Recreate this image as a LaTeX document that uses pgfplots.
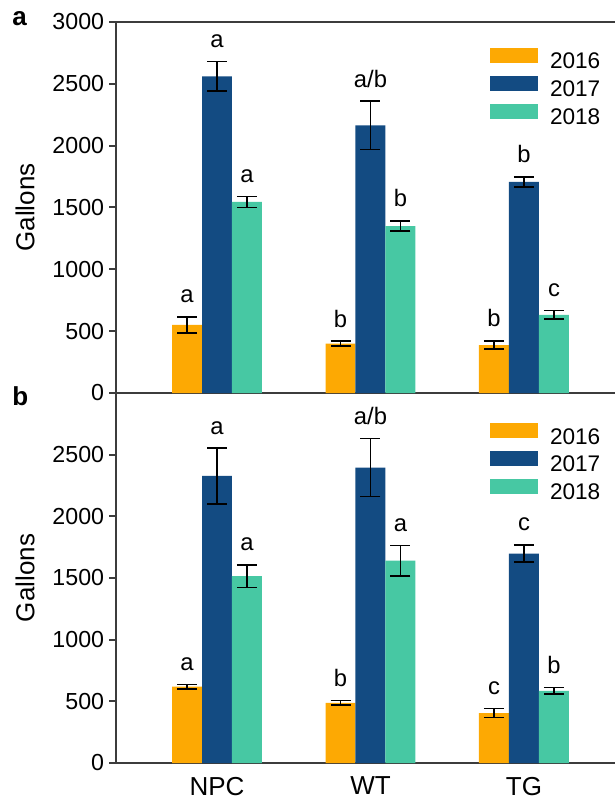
\documentclass[border=0pt]{standalone}
\usepackage{fontspec}
\setmainfont{Liberation Sans}
\usepackage{pgfplots}
\usepackage{pgfplotstable}
\pgfplotsset{compat=1.18}

\definecolor{c16}{RGB}{253,169,3}
\definecolor{c17}{RGB}{19,75,130}
\definecolor{c18}{RGB}{71,200,163}
\definecolor{axgray}{RGB}{60,60,60}

\newcommand{\tickfont}{\fontsize{11.6}{14}\selectfont}
\newcommand{\labfont}{\fontsize{13}{15}\selectfont}
\newcommand{\legfont}{\fontsize{11.3}{13}\selectfont}
\newcommand{\letfont}{\fontsize{11.9}{14}\selectfont}

% panel a: mean, error, letter per year
\pgfplotstableread{
x y16 e16 l16 y17 e17 l17 y18 e18 l18
0 550 65 a 2560 120 a   1545 45 a
1 400 20 b 2165 195 a/b 1350 42 b
2 388 33 b 1707 40  b   632  35 c
}\panela

% panel b
\pgfplotstableread{
x y16 e16 l16 y17 e17 l17 y18 e18 l18
0 620 18 a 2328 226 a   1515 92  a
1 488 19 b 2395 235 a/b 1640 123 a
2 405 37 c 1698 70  c   585  27  b
}\panelb

\pgfplotsset{
  panel/.style={
    scale only axis, width=249.5pt,
    xmin=-0.658, xmax=2.593, ymin=0, ymax=3000,
    axis y line*=left,
    axis line style={axgray, line width=1pt},
    tick style={axgray, line width=1pt},
    tick align=outside, major tick length=3.5pt,
    xtick style={draw=none},
    /pgf/number format/assume math mode=true,
    /pgf/number format/1000 sep={},
    yticklabel style={font=\tickfont, text=black, inner sep=0pt, xshift=-2.25pt},
    xticklabel style={font=\labfont, text=black},
    ylabel={Gallons},
    every axis y label/.style={at={(axis description cs:-0.182,0.5)}, rotate=90, anchor=center, font=\labfont, text=black},
    legend style={at={(0.7495,0.93)}, anchor=north west, draw=none, fill=none,
      inner sep=0pt, outer sep=0pt, font=\legfont, row sep=0pt,
      nodes={inner sep=0pt, text height=8.5pt, text depth=3.5pt},
      /tikz/every odd column/.append style={column sep=6pt}},
    legend cell align=left,
  },
  bars/.style={ybar, bar width=0.1954, bar shift=0, draw=none, fill=#1,
    error bars/.cd, y dir=both, y explicit,
    error bar style={line width=0.8pt, black},
    error mark options={rotate=90, mark size=5pt, line width=0.8pt, black},
    /pgfplots/.cd,
    legend image code/.code={\fill[fill=#1] (0pt,0.4pt) rectangle (24pt,7.9pt);}},
  letters/.style={forget plot, draw=none, mark=none, nodes near coords,
    point meta=explicit symbolic,
    every node near coord/.append style={anchor=base, yshift=7pt, font=\letfont, text=black, inner sep=0pt}},
}

\begin{document}
\begin{tikzpicture}
\useasboundingbox (0,0) rectangle (307.5pt,-400.5pt);

\begin{axis}[panel, at={(58pt,-196.5pt)}, anchor=south west, height=185.5pt,
  axis x line*=box, xtick=\empty, ytick={0,500,...,3000}]
\addplot[bars=c16] table[x expr=\thisrow{x}-0.1954, y=y16, y error=e16] {\panela};
\addplot[bars=c17] table[x expr=\thisrow{x}, y=y17, y error=e17] {\panela};
\addplot[bars=c18] table[x expr=\thisrow{x}+0.1954, y=y18, y error=e18] {\panela};
\addplot[letters] table[x expr=\thisrow{x}-0.1954, y expr=\thisrow{y16}+\thisrow{e16}, meta=l16] {\panela};
\addplot[letters] table[x expr=\thisrow{x}, y expr=\thisrow{y17}+\thisrow{e17}, meta=l17] {\panela};
\addplot[letters] table[x expr=\thisrow{x}+0.1954, y expr=\thisrow{y18}+\thisrow{e18}, meta=l18] {\panela};
\legend{2016,2017,2018}
\end{axis}

\begin{axis}[panel, at={(58pt,-381.5pt)}, anchor=south west, height=185pt,
  axis x line*=bottom, xtick={0,1,2}, xticklabels={NPC,WT,TG},
  ytick={0,500,...,2500}, legend style={at={(0.7495,0.918)}}]
\addplot[bars=c16] table[x expr=\thisrow{x}-0.1954, y=y16, y error=e16] {\panelb};
\addplot[bars=c17] table[x expr=\thisrow{x}, y=y17, y error=e17] {\panelb};
\addplot[bars=c18] table[x expr=\thisrow{x}+0.1954, y=y18, y error=e18] {\panelb};
\addplot[letters] table[x expr=\thisrow{x}-0.1954, y expr=\thisrow{y16}+\thisrow{e16}, meta=l16] {\panelb};
\addplot[letters] table[x expr=\thisrow{x}, y expr=\thisrow{y17}+\thisrow{e17}, meta=l17] {\panelb};
\addplot[letters] table[x expr=\thisrow{x}+0.1954, y expr=\thisrow{y18}+\thisrow{e18}, meta=l18] {\panelb};
\legend{2016,2017,2018}
\end{axis}

\node[anchor=base west, font=\fontsize{13}{15}\selectfont\bfseries, inner sep=0pt] at (6pt,-13pt) {a};
\node[anchor=base west, font=\fontsize{13}{15}\selectfont\bfseries, inner sep=0pt] at (6pt,-202.5pt) {b};
\end{tikzpicture}
\end{document}
